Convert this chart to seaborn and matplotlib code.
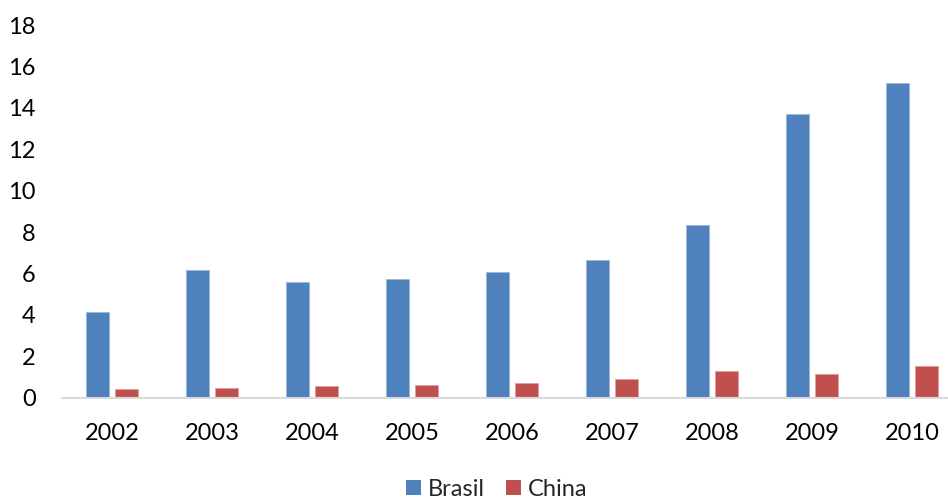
import matplotlib
matplotlib.use("Agg")
import matplotlib.pyplot as plt
import seaborn as sns
import pandas as pd

years = ["2002", "2003", "2004", "2005", "2006", "2007", "2008", "2009", "2010"]
brasil = [4.12, 6.15, 5.58, 5.73, 6.05, 6.66, 8.32, 13.69, 15.22]
china = [0.42, 0.47, 0.58, 0.60, 0.71, 0.90, 1.29, 1.14, 1.52]
series_names = ["Brasil", "China"]
colors = ["#4F81BD", "#C0504D"]
yticks = [0, 2, 4, 6, 8, 10, 12, 14, 16, 18]

df = pd.DataFrame({
    "year": years * 2,
    "value": brasil + china,
    "serie": [series_names[0]] * len(years) + [series_names[1]] * len(years),
})

sns.set_theme(style="white")
plt.rcParams["font.family"] = ["Lato", "DejaVu Sans"]

fig = plt.figure(figsize=(9.48, 4.98), dpi=100)
ax = fig.add_axes([62 / 948, 1 - 397.7 / 498, 1 - 62 / 948, (397.7 - 25) / 498])

sns.barplot(data=df, x="year", y="value", hue="serie", palette=colors,
            width=0.572, gap=0.2, ax=ax, legend=False,
            edgecolor="#9DB7DC", linewidth=0.6, saturation=1)
for bar in ax.patches:
    fc = bar.get_facecolor()
    if abs(fc[0] - 0xC0 / 255) < 0.02:
        bar.set_edgecolor("#DCA09E")

ax.set_xlim(-0.5, 8.36)
ax.set_ylim(0, 18)
ax.set_yticks(yticks)
ax.set_yticklabels([str(t) for t in yticks])
ax.set_xlabel("")
ax.set_ylabel("")
for s in ["top", "right", "left"]:
    ax.spines[s].set_visible(False)
ax.spines["bottom"].set_color("#D9D9D9")
ax.spines["bottom"].set_linewidth(1.5)
ax.tick_params(axis="both", length=0, labelsize=17, labelcolor="#000000")
ax.tick_params(axis="x", pad=18)
ax.tick_params(axis="y", pad=19)
for lab in ax.get_yticklabels():
    lab.set_horizontalalignment("right")

from matplotlib.patches import Patch
handles = [Patch(facecolor=c, edgecolor="none") for c in colors]
fig.legend(handles, series_names, loc="center", bbox_to_anchor=(497 / 948, 1 - 489 / 498),
           ncol=2, frameon=False, fontsize=17, handlelength=0.62, handleheight=0.62,
           handletextpad=0.3, columnspacing=0.9)

fig.savefig("out.png", dpi=100)
